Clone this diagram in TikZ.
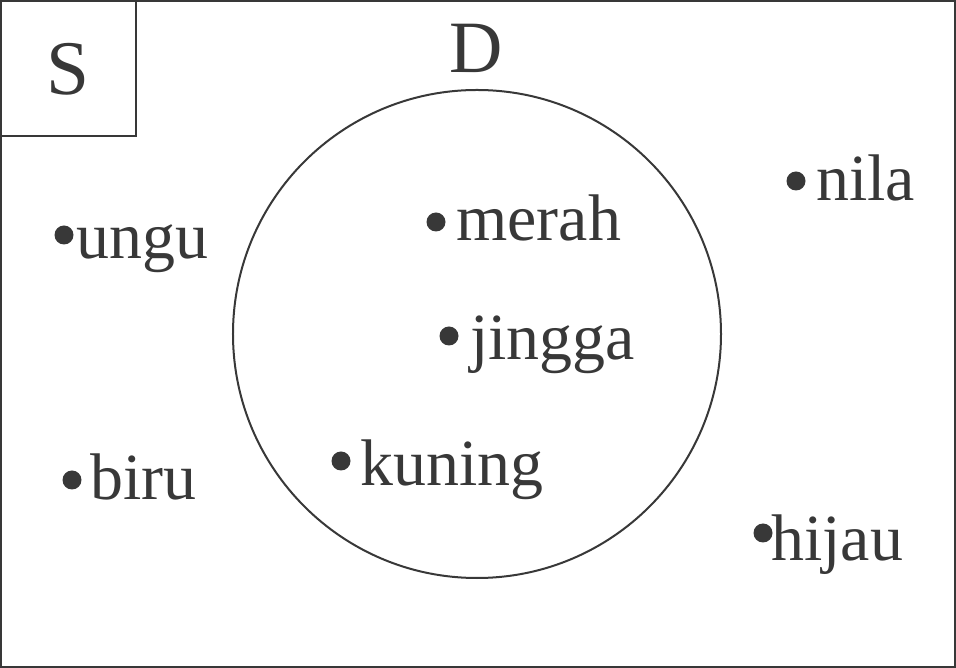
\documentclass[tikz,border=0pt]{standalone}
\usepackage{fontspec}
\setmainfont{Liberation Serif}
\definecolor{ink}{HTML}{383838}
\tikzset{
  titik/.style={circle,fill=ink,inner sep=0pt,minimum size=3.8mm},
  lbl/.style={anchor=base west,inner sep=0pt,text=ink,font=\fontsize{37.5}{44}\selectfont}
}
\begin{document}
\begin{tikzpicture}[x=0.2mm,y=-0.2mm]
      \useasboundingbox (0,0) rectangle (956,668);
      \draw[ink,line width=0.4mm] (1,1) rectangle (955,667);
      \draw[ink,line width=0.4mm] (1,1) rectangle (136,136);
      \node[anchor=base,inner sep=0pt,text=ink,font=\fontsize{44}{50}\selectfont] (S) at (68.5,95) {S};
      \draw[ink,line width=0.4mm] (477,334) circle[radius=48.8mm];
      \node[anchor=base,inner sep=0pt,text=ink,font=\fontsize{42}{48}\selectfont] (D) at (476.5,73) {D};
      % anggota di dalam D
      \node[titik] (merah) at (436,222) {};   \node[lbl] (tmerah) at (456,241) {merah};
      \node[titik] (jingga) at (449,336) {};  \node[lbl] (tjingga) at (470,360) {jingga};
      \node[titik] (kuning) at (341,461) {};  \node[lbl] (tkuning) at (360,486) {kuning};
      % anggota di luar D
      \node[titik] (ungu) at (64,235) {};     \node[lbl] (tungu) at (76,259) {ungu};
      \node[titik] (biru) at (72,480) {};     \node[lbl] (tbiru) at (90,500) {biru};
      \node[titik] (nila) at (796,181) {};    \node[lbl] (tnila) at (816,201) {nila};
      \node[titik] (hijau) at (763,533) {};   \node[lbl] (thijau) at (771,561) {hijau};
    \end{tikzpicture}
\end{document}
